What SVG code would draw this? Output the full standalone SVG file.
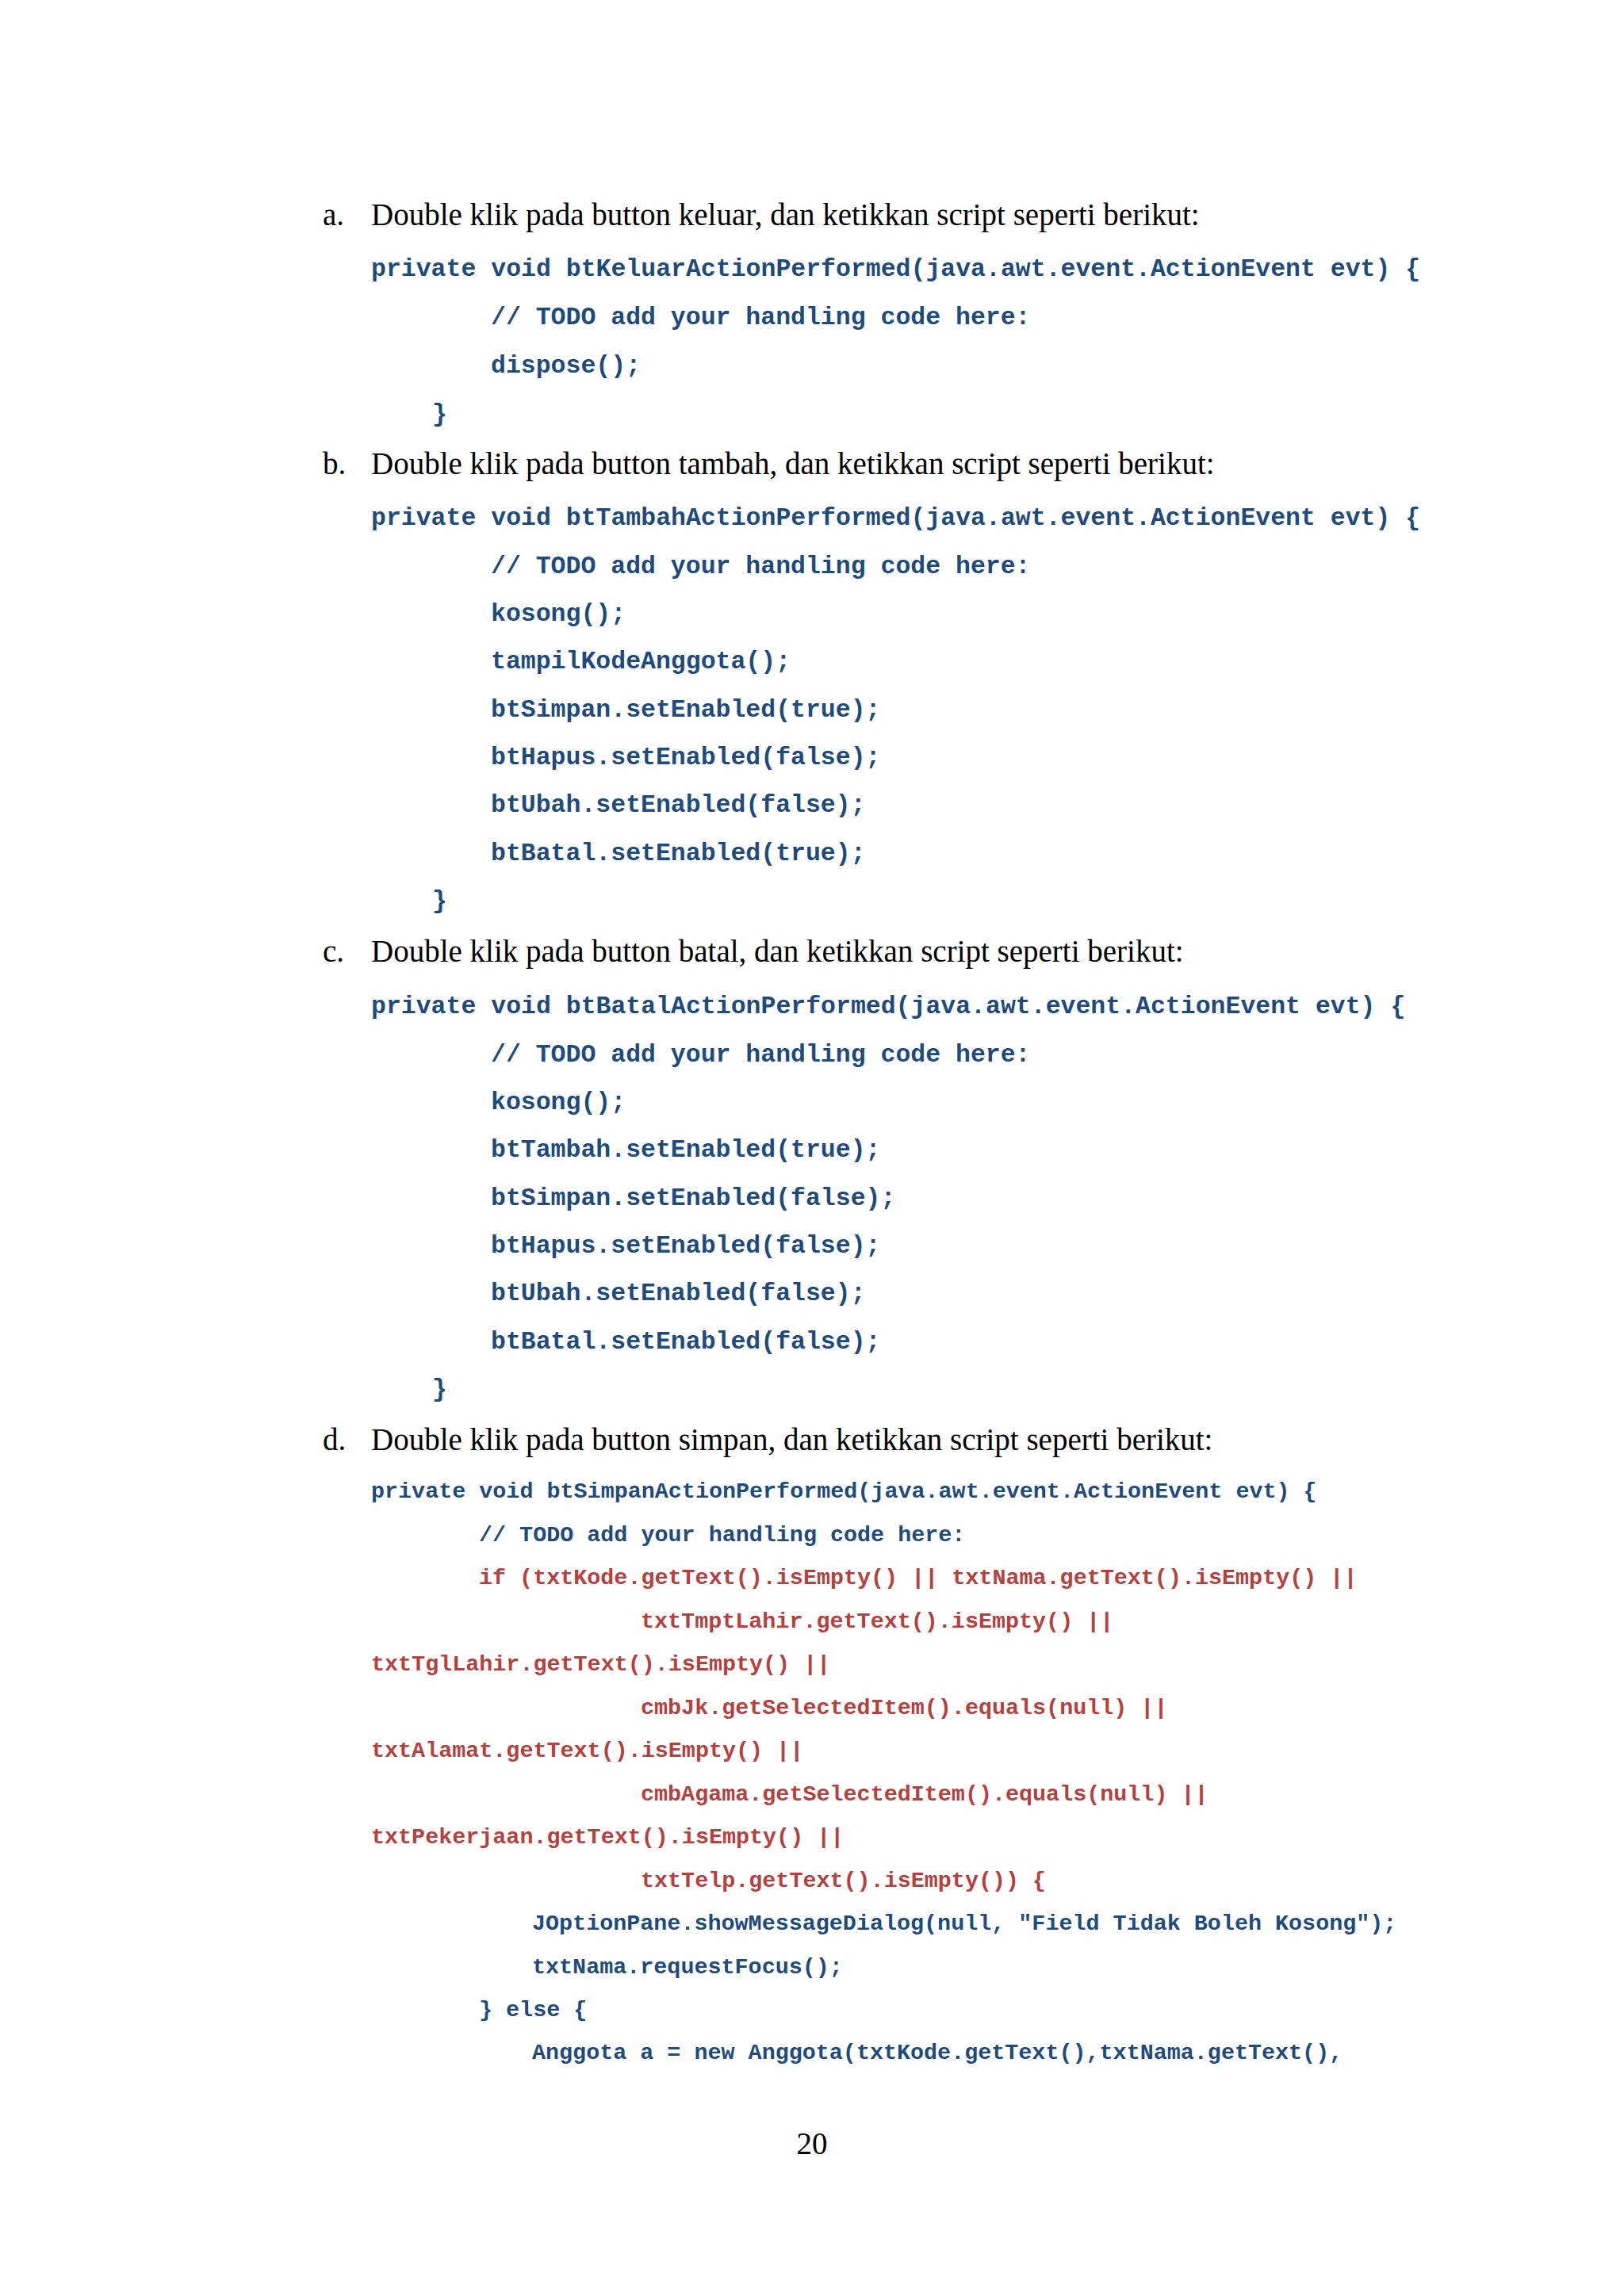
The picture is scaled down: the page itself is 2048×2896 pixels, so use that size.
<svg xmlns="http://www.w3.org/2000/svg" width="2048" height="2896" viewBox="0 0 2048 2896">
<style>
.h{font-family:"Liberation Serif","Times New Roman",serif;font-size:39px;fill:#000}
.c{font-family:"Liberation Mono","DejaVu Sans Mono",monospace;font-size:31.5px;font-weight:bold;fill:#1f4a7c}
.d{font-family:"Liberation Mono","DejaVu Sans Mono",monospace;font-size:28.4px;font-weight:bold;fill:#1f4a7c}
.r{fill:#b5403e}
</style>
<rect width="2048" height="2896" fill="#fff"/>
<g id="a" xml:space="preserve">
<text class="h" x="407" y="284">a.</text>
<text class="h" x="468" y="284">Double klik pada button keluar, dan ketikkan script seperti berikut:</text>
<text class="c" x="468" y="348">private void btKeluarActionPerformed(java.awt.event.ActionEvent evt) {</text>
<text class="c" x="619" y="409">// TODO add your handling code here:</text>
<text class="c" x="619" y="470">dispose();</text>
<text class="c" x="545" y="531">}</text>
</g>
<g id="b" xml:space="preserve">
<text class="h" x="407" y="598">b.</text>
<text class="h" x="468" y="598">Double klik pada button tambah, dan ketikkan script seperti berikut:</text>
<text class="c" x="468" y="662">private void btTambahActionPerformed(java.awt.event.ActionEvent evt) {</text>
<text class="c" x="619" y="723">// TODO add your handling code here:</text>
<text class="c" x="619" y="783">kosong();</text>
<text class="c" x="619" y="843">tampilKodeAnggota();</text>
<text class="c" x="619" y="904">btSimpan.setEnabled(true);</text>
<text class="c" x="619" y="964">btHapus.setEnabled(false);</text>
<text class="c" x="619" y="1024">btUbah.setEnabled(false);</text>
<text class="c" x="619" y="1085">btBatal.setEnabled(true);</text>
<text class="c" x="545" y="1145">}</text>
</g>
<g id="c" xml:space="preserve">
<text class="h" x="407" y="1213">c.</text>
<text class="h" x="468" y="1213">Double klik pada button batal, dan ketikkan script seperti berikut:</text>
<text class="c" x="468" y="1278">private void btBatalActionPerformed(java.awt.event.ActionEvent evt) {</text>
<text class="c" x="619" y="1339">// TODO add your handling code here:</text>
<text class="c" x="619" y="1399">kosong();</text>
<text class="c" x="619" y="1459">btTambah.setEnabled(true);</text>
<text class="c" x="619" y="1520">btSimpan.setEnabled(false);</text>
<text class="c" x="619" y="1580">btHapus.setEnabled(false);</text>
<text class="c" x="619" y="1640">btUbah.setEnabled(false);</text>
<text class="c" x="619" y="1701">btBatal.setEnabled(false);</text>
<text class="c" x="545" y="1761">}</text>
</g>
<g id="d" xml:space="preserve">
<text class="h" x="407" y="1829">d.</text>
<text class="h" x="468" y="1829">Double klik pada button simpan, dan ketikkan script seperti berikut:</text>
<text class="d" x="468" y="1889">private void btSimpanActionPerformed(java.awt.event.ActionEvent evt) {</text>
<text class="d" x="604" y="1944">// TODO add your handling code here:</text>
<text class="d r" x="604" y="1998">if (txtKode.getText().isEmpty() || txtNama.getText().isEmpty() ||</text>
<text class="d r" x="808" y="2053">txtTmptLahir.getText().isEmpty() ||</text>
<text class="d r" x="468" y="2107">txtTglLahir.getText().isEmpty() ||</text>
<text class="d r" x="808" y="2162">cmbJk.getSelectedItem().equals(null) ||</text>
<text class="d r" x="468" y="2216">txtAlamat.getText().isEmpty() ||</text>
<text class="d r" x="808" y="2271">cmbAgama.getSelectedItem().equals(null) ||</text>
<text class="d r" x="468" y="2325">txtPekerjaan.getText().isEmpty() ||</text>
<text class="d r" x="808" y="2380">txtTelp.getText().isEmpty()) {</text>
<text class="d" x="671" y="2434">JOptionPane.showMessageDialog(null, "Field Tidak Boleh Kosong");</text>
<text class="d" x="671" y="2489">txtNama.requestFocus();</text>
<text class="d" x="604" y="2543">} else {</text>
<text class="d" x="671" y="2597">Anggota a = new Anggota(txtKode.getText(),txtNama.getText(),</text>
</g>
<text class="h" x="1024" y="2717" text-anchor="middle">20</text>
</svg>
